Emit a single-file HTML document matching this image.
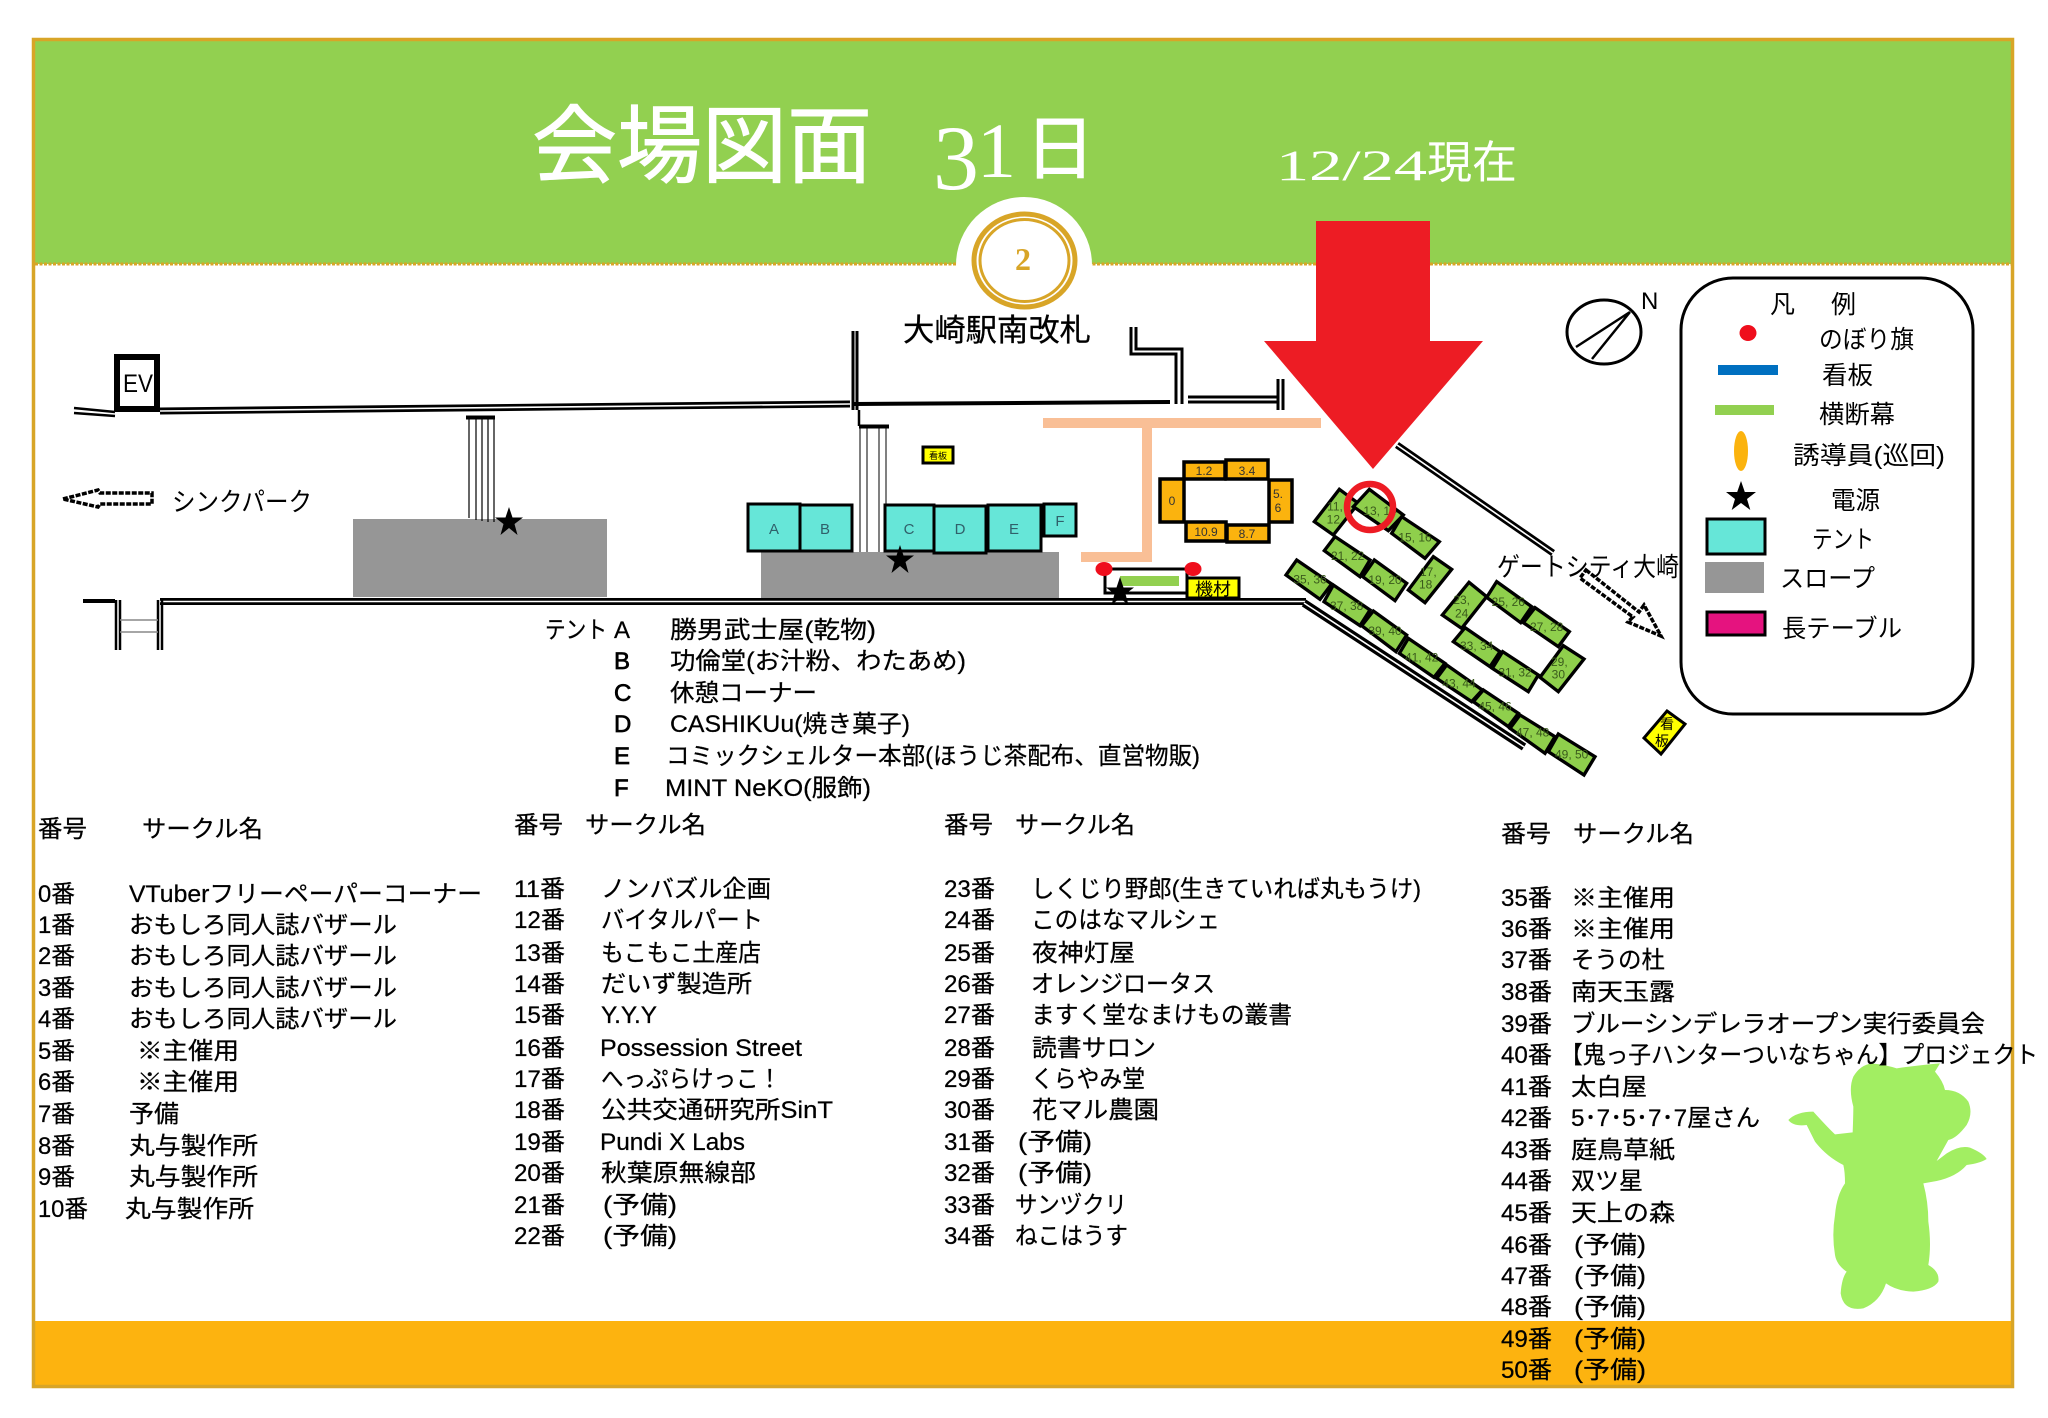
<!DOCTYPE html>
<html lang="ja">
<head>
<meta charset="utf-8">
<title>会場図面</title>
<style>
html,body{margin:0;padding:0;background:#fff;width:2048px;height:1418px;overflow:hidden}
svg{display:block}
text{font-family:"Liberation Sans","Noto Sans CJK JP",sans-serif;fill:#000}
.l text{font-size:24px;stroke:#000;stroke-width:.25}
.wb{fill:none;stroke:#000;stroke-width:7}
.ww{fill:none;stroke:#fff;stroke-width:1.6}
.t{fill:#66e6d8;stroke:#000;stroke-width:3}
.o{fill:#fbb30e;stroke:#000;stroke-width:3.5}
.tl{font-size:15px;fill:#30606a;text-anchor:middle}
.ol{font-size:12px;fill:#333;text-anchor:middle}
.g polygon{fill:#8fcf4c;stroke:#000;stroke-width:10}
.g text{font-size:36px;fill:#3a5a1c;text-anchor:middle}
</style>
</head>
<body>
<svg width="2048" height="1418" viewBox="0 0 2048 1418" xmlns="http://www.w3.org/2000/svg">
<rect width="2048" height="1418" fill="#fff"/>
<!-- header / footer -->
<rect x="33" y="39" width="1980" height="225" fill="#92d050"/>
<line x1="35" y1="264" x2="2012" y2="264" stroke="#d8a527" stroke-width="3" stroke-dasharray="3 1.500"/>
<rect x="33" y="1321" width="1980" height="66" fill="#fdb30f"/>
<rect x="33.500" y="39.500" width="1979" height="1347" fill="none" stroke="#d8a527" stroke-width="3.500"/>
<!-- title -->
<text x="532" y="176" font-size="85" textLength="340" lengthAdjust="spacingAndGlyphs" style="fill:#fff;stroke:#fff;stroke-width:1">会場図面</text>
<text x="933" y="189" font-size="92" style="fill:#fff;font-family:'Liberation Serif',serif">3</text>
<text x="977" y="177" font-size="78" style="fill:#fff;font-family:'Liberation Serif',serif">1</text>
<text x="1025" y="173" font-size="70" style="fill:#fff;stroke:#fff;stroke-width:1">日</text>
<text x="1276" y="180" font-size="43" textLength="151" lengthAdjust="spacingAndGlyphs" style="fill:#fff;font-family:'Liberation Serif',serif">12/24</text>
<text x="1427" y="178" font-size="45" textLength="90" lengthAdjust="spacingAndGlyphs" style="fill:#fff">現在</text>
<!-- station badge -->
<circle cx="1024" cy="265" r="68" fill="#fff"/>
<ellipse cx="1024.500" cy="260.500" rx="50.500" ry="46.500" fill="none" stroke="#d8a527" stroke-width="5"/>
<ellipse cx="1024.500" cy="260.500" rx="44.500" ry="41" fill="none" stroke="#d8a527" stroke-width="3"/>
<text x="1023" y="270" font-size="32" text-anchor="middle" style="fill:#d8a527;font-family:'Liberation Serif',serif;font-weight:bold">2</text>
<text x="903" y="341" font-size="31" textLength="188" lengthAdjust="spacingAndGlyphs" style="stroke:#000;stroke-width:.3">大崎駅南改札</text>

<!-- upper walls -->
<path class="wb" d="M160 411 L850 404"/><path class="ww" d="M160 411 L850 404"/>
<path d="M74 408 L115 412 M74 413 L115 416" stroke="#000" stroke-width="2.500" fill="none"/>
<path d="M854 404 L1170 402" stroke="#000" stroke-width="4" fill="none"/>
<path d="M853 331 V410 M857 331 V410" stroke="#000" stroke-width="3" fill="none"/>
<path d="M859 410 V426" stroke="#000" stroke-width="2.500" fill="none"/>
<path d="M1136 327 V349 H1182 V404 M1131 327 V354 H1176 V404" stroke="#000" stroke-width="3" fill="none"/>
<path d="M1188 397 H1279 M1188 402 H1279" stroke="#000" stroke-width="3" fill="none"/>
<path d="M1278 379 V410 M1283 379 V410" stroke="#000" stroke-width="3" fill="none"/>
<!-- EV -->
<rect x="117" y="357" width="40" height="52" fill="#fff" stroke="#000" stroke-width="6"/>
<text x="123" y="392" font-size="25" textLength="30" lengthAdjust="spacingAndGlyphs">EV</text>
<!-- slopes -->
<rect x="353" y="519" width="254" height="78" fill="#969696"/>
<rect x="761" y="552" width="298" height="47" fill="#969696"/>
<!-- stairs -->
<rect x="466" y="415.500" width="29" height="4" fill="#000"/>
<path d="M469 419 V518 M476 419 V520 M482 419 V521 M488 419 V522 M494 419 V522" stroke="#000" stroke-width="1.200" fill="none"/>
<rect x="859" y="424.500" width="30" height="4" fill="#000"/>
<path d="M860 428 V552 M867 428 V552 M879 428 V552 M886 428 V552" stroke="#000" stroke-width="1" fill="none"/>
<!-- lower walls -->
<path class="wb" d="M160 601.500 H1306"/><path class="ww" d="M160 601.500 H1306"/>
<path class="wb" d="M1304 603 L1524 747" style="stroke-width:8"/><path class="ww" d="M1304 603 L1524 747"/>
<path d="M83 601 H115" stroke="#000" stroke-width="4" fill="none"/>
<path d="M116 600 V650 M120 600 V650 M158 600 V650 M162 600 V650" stroke="#000" stroke-width="2.500" fill="none"/>
<path d="M120 620 H158 M120 632 H158" stroke="#888" stroke-width="1.500" fill="none"/>
<!-- upper right wall -->
<path class="wb" d="M1397 445 L1553 553"/><path class="ww" d="M1397 445 L1553 553"/>

<!-- tents -->
<rect class="t" x="748" y="504" width="52" height="47"/><rect class="t" x="800" y="505" width="52" height="46"/>
<rect class="t" x="885" y="505" width="49" height="46"/><rect class="t" x="934" y="506" width="52" height="47"/>
<rect class="t" x="988" y="505" width="53" height="46"/><rect class="t" x="1044" y="504" width="32" height="32"/>
<text class="tl" x="774" y="534">A</text><text class="tl" x="825" y="534">B</text><text class="tl" x="909" y="534">C</text><text class="tl" x="960" y="534">D</text><text class="tl" x="1014" y="534">E</text><text class="tl" x="1060" y="526">F</text>
<!-- sign -->
<rect x="923" y="447" width="30" height="16" fill="#ffff00" stroke="#000" stroke-width="3"/>
<text x="938" y="459" font-size="9" text-anchor="middle">看板</text>
<!-- peach -->
<path d="M1043 418 H1321 V428 H1152 V562 H1081 V552 H1142 V428 H1043 Z" fill="#f9bf96"/>
<!-- orange tables -->
<rect class="o" x="1160" y="479" width="24" height="43"/><rect class="o" x="1184" y="462" width="41" height="17"/><rect class="o" x="1226" y="460" width="42" height="19"/><rect class="o" x="1269" y="480" width="23" height="42"/><rect class="o" x="1186" y="522" width="40" height="19"/><rect class="o" x="1227" y="525" width="42" height="17"/>
<text class="ol" x="1172" y="505">0</text><text class="ol" x="1204" y="475">1.2</text><text class="ol" x="1247" y="475">3.4</text><text class="ol" x="1278" y="498">5.</text><text class="ol" x="1278" y="512">6</text><text class="ol" x="1206" y="536">10.9</text><text class="ol" x="1247" y="538">8.7</text>
<!-- banner box -->
<path d="M1105 569 H1187 V597 M1105 569 V593 H1187" fill="none" stroke="#000" stroke-width="3"/>
<rect x="1120" y="576" width="59" height="10" fill="#92d050"/>
<rect x="1187" y="578" width="52" height="20" fill="#ffff00" stroke="#000" stroke-width="3"/>
<text x="1213" y="595" font-size="17" text-anchor="middle" textLength="36" lengthAdjust="spacingAndGlyphs">機材</text>
<ellipse cx="1104" cy="569" rx="8.500" ry="7" fill="#ef0e1c"/><ellipse cx="1193" cy="569" rx="8.500" ry="7" fill="#ef0e1c"/>
<!-- stars -->
<polygon points="509,507 512.500,517.500 523,517.500 514.500,524 517.500,535 509,528 500.500,535 503.500,524 495,517.500 505.500,517.500" fill="#000"/>
<polygon points="900,545 903.500,555.500 914,555.500 905.500,562 908.500,573 900,566 891.500,573 894.500,562 886,555.500 896.500,555.500" fill="#000"/>
<polygon points="1120,577 1123.500,587.500 1134,587.500 1125.500,594 1128.500,605 1120,598 1111.500,605 1114.500,594 1106,587.500 1116.500,587.500" fill="#000"/>

<!-- green tables -->
<g class="g" transform="translate(1280,480) scale(.33333)">
<polygon points="178,28 235,70 160,165 103,125"/>
<polygon points="268,28 370,105 325,152 220,80"/>
<polygon points="365,110 478,185 435,235 335,160"/>
<polygon points="460,230 515,268 435,368 385,330"/>
<polygon points="165,170 270,240 240,290 133,212"/>
<polygon points="283,240 380,310 345,362 248,290"/>
<polygon points="50,240 155,312 120,358 18,285"/>
<polygon points="160,315 270,390 240,437 132,365"/>
<polygon points="280,393 380,465 348,515 245,437"/>
<polygon points="385,475 495,550 462,592 358,520"/>
<polygon points="500,555 607,630 575,665 470,595"/>
<polygon points="610,630 715,700 685,740 580,665"/>
<polygon points="720,705 825,770 795,820 690,745"/>
<polygon points="835,762 945,830 912,885 805,815"/>
<polygon points="567,307 620,350 545,445 487,405"/>
<polygon points="650,305 755,380 722,428 620,352"/>
<polygon points="765,383 868,455 835,500 730,428"/>
<polygon points="850,497 912,537 835,635 780,592"/>
<polygon points="555,443 660,515 630,560 520,485"/>
<polygon points="668,515 775,585 745,635 637,565"/>
<text x="165" y="92">11,</text><text x="160" y="130">12</text>
<text x="300" y="105">13, 14</text>
<text x="405" y="185">15, 16</text>
<text x="445" y="288">17,</text><text x="437" y="326">18</text>
<text x="203" y="240">21, 22</text>
<text x="315" y="312">19, 20</text>
<text x="90" y="310">35, 36</text>
<text x="200" y="390">37, 38</text>
<text x="315" y="465">39, 40</text>
<text x="425" y="545">41, 42</text>
<text x="537" y="622">43, 44</text>
<text x="645" y="692">45, 46</text>
<text x="758" y="770">47, 48</text>
<text x="875" y="835">49, 50</text>
<text x="545" y="372">23,</text><text x="545" y="412">24</text>
<text x="685" y="378">25, 26</text>
<text x="800" y="453">27, 28</text>
<text x="838" y="558">29,</text><text x="835" y="595">30</text>
<text x="590" y="510">33, 34</text>
<text x="705" y="590">31, 32</text>
</g>
<!-- yellow sign -->
<polygon points="1667,711 1685,724 1661,754 1644,738" fill="#ffff00" stroke="#000" stroke-width="3"/>
<text x="1667" y="729" font-size="14" text-anchor="middle">看</text>
<text x="1662" y="746" font-size="14" text-anchor="middle">板</text>

<!-- red arrow + circle -->
<polygon points="1316,221 1430,221 1430,341 1483,341 1373,469 1264,341 1316,341" fill="#ed1c24"/>
<circle cx="1370" cy="507" r="23" fill="none" stroke="#ed1c24" stroke-width="6.500"/>

<!-- dashed arrows -->
<polygon points="63,499 98,490 100,493 152,493 152,504 100,504 98,507" fill="#fff" stroke="#000" stroke-width="3.500" stroke-dasharray="5 1.500"/>
<text x="172" y="511" font-size="26" textLength="140" lengthAdjust="spacingAndGlyphs">シンクパーク</text>
<polygon points="1586,570 1639,612 1644,605 1661,636 1628,622 1633,617 1580,578" fill="#fff" stroke="#000" stroke-width="3.500" stroke-dasharray="5 1.500"/>
<text x="1497" y="576" font-size="26" textLength="182" lengthAdjust="spacingAndGlyphs">ゲートシティ大崎</text>

<!-- compass -->
<ellipse cx="1604" cy="332" rx="37" ry="32" fill="#fff" stroke="#000" stroke-width="3"/>
<path d="M1630 312 L1576 347 M1630 312 L1592 359" stroke="#000" stroke-width="2.500" fill="none"/>
<text x="1641" y="309" font-size="24">N</text>

<!-- legend -->
<rect x="1681" y="278" width="292" height="436" rx="52" ry="52" fill="#fff" stroke="#000" stroke-width="3"/>
<text x="1770" y="313" font-size="25">凡</text><text x="1831" y="313" font-size="25">例</text>
<ellipse cx="1748" cy="333" rx="8.500" ry="8" fill="#ef0e1c"/>
<text x="1819" y="348" font-size="25" textLength="95" lengthAdjust="spacingAndGlyphs">のぼり旗</text>
<rect x="1718" y="365" width="60" height="10" fill="#0070c0"/>
<text x="1822" y="384" font-size="25" textLength="51" lengthAdjust="spacingAndGlyphs">看板</text>
<rect x="1715" y="405" width="59" height="10" fill="#92d050"/>
<text x="1819" y="423" font-size="25" textLength="76" lengthAdjust="spacingAndGlyphs">横断幕</text>
<ellipse cx="1741" cy="451" rx="7" ry="20" fill="#fbb30e"/>
<text x="1793" y="464" font-size="25" textLength="152" lengthAdjust="spacingAndGlyphs">誘導員(巡回)</text>
<polygon points="1741,481 1744.800,492 1756,492 1747,499 1750.300,510 1741,503 1731.700,510 1735,499 1726,492 1737.200,492" fill="#000"/>
<text x="1831" y="509" font-size="25" textLength="49" lengthAdjust="spacingAndGlyphs">電源</text>
<rect class="t" x="1707" y="519" width="58" height="35"/>
<text x="1812" y="548" font-size="25" textLength="62" lengthAdjust="spacingAndGlyphs">テント</text>
<rect x="1705" y="562" width="59" height="31" fill="#969696"/>
<text x="1780" y="587" font-size="25" textLength="95" lengthAdjust="spacingAndGlyphs">スロープ</text>
<rect x="1707" y="612" width="58" height="23" fill="#e5137f" stroke="#000" stroke-width="3"/>
<text x="1782" y="637" font-size="25" textLength="120" lengthAdjust="spacingAndGlyphs">長テーブル</text>

<!-- mascot -->
<g transform="translate(1780,1055) scale(.33333)">
<path fill="#a2ee62" d="M275 25 Q320 30 350 40 Q420 30 480 25 L465 50 Q490 80 495 105 Q540 105 565 140 Q580 175 560 210 Q530 250 505 255 L470 318 L500 295 Q540 270 570 278 Q610 295 620 312 Q600 325 560 330 Q530 365 470 378 L430 385 Q445 440 445 500 Q455 570 445 630 Q480 650 475 680 Q460 705 400 710 Q350 708 318 685 Q300 740 250 760 Q190 770 182 715 Q185 670 200 650 Q170 630 165 600 Q155 540 165 480 Q170 420 195 385 Q195 350 190 330 Q140 305 105 260 L80 210 Q40 215 25 195 Q50 170 100 170 Q150 225 165 238 L218 232 Q220 180 220 155 Q205 100 220 65 Q240 30 275 25 Z"/>
</g>

<!-- tent list -->
<g class="l">
<text x="545" y="638" textLength="62" lengthAdjust="spacingAndGlyphs">テント</text>
<text x="614" y="638">A</text><text x="670" y="638" textLength="206" lengthAdjust="spacingAndGlyphs">勝男武士屋(乾物)</text>
<text x="614" y="669" style="stroke-width:.7">B</text><text x="670" y="669" textLength="296" lengthAdjust="spacingAndGlyphs">功倫堂(お汁粉、わたあめ)</text>
<text x="614" y="701" style="stroke-width:.7">C</text><text x="670" y="701" textLength="147" lengthAdjust="spacingAndGlyphs">休憩コーナー</text>
<text x="614" y="732" style="stroke-width:.7">D</text><text x="670" y="732" textLength="240" lengthAdjust="spacingAndGlyphs">CASHIKUu(焼き菓子)</text>
<text x="614" y="764" style="stroke-width:.7">E</text><text x="666" y="764" textLength="534" lengthAdjust="spacingAndGlyphs">コミックシェルター本部(ほうじ茶配布、直営物販)</text>
<text x="614" y="796" style="stroke-width:.7">F</text><text x="665" y="796" textLength="206" lengthAdjust="spacingAndGlyphs">MINT NeKO(服飾)</text>
</g>

<!-- column 1 -->
<g class="l">
<text x="38" y="837" textLength="49" lengthAdjust="spacingAndGlyphs">番号</text><text x="142" y="837" textLength="121" lengthAdjust="spacingAndGlyphs">サークル名</text>
<text x="38" y="902" textLength="37" lengthAdjust="spacingAndGlyphs">0番</text><text x="129" y="902" textLength="353" lengthAdjust="spacingAndGlyphs">VTuberフリーペーパーコーナー</text>
<text x="38" y="933" textLength="37" lengthAdjust="spacingAndGlyphs">1番</text><text x="129" y="933" textLength="268" lengthAdjust="spacingAndGlyphs">おもしろ同人誌バザール</text>
<text x="38" y="964" textLength="37" lengthAdjust="spacingAndGlyphs">2番</text><text x="129" y="964" textLength="268" lengthAdjust="spacingAndGlyphs">おもしろ同人誌バザール</text>
<text x="38" y="996" textLength="37" lengthAdjust="spacingAndGlyphs">3番</text><text x="129" y="996" textLength="268" lengthAdjust="spacingAndGlyphs">おもしろ同人誌バザール</text>
<text x="38" y="1027" textLength="37" lengthAdjust="spacingAndGlyphs">4番</text><text x="129" y="1027" textLength="268" lengthAdjust="spacingAndGlyphs">おもしろ同人誌バザール</text>
<text x="38" y="1059" textLength="37" lengthAdjust="spacingAndGlyphs">5番</text><text x="137" y="1059" textLength="102" lengthAdjust="spacingAndGlyphs">※主催用</text>
<text x="38" y="1090" textLength="37" lengthAdjust="spacingAndGlyphs">6番</text><text x="137" y="1090" textLength="102" lengthAdjust="spacingAndGlyphs">※主催用</text>
<text x="38" y="1122" textLength="37" lengthAdjust="spacingAndGlyphs">7番</text><text x="129" y="1122" textLength="50" lengthAdjust="spacingAndGlyphs">予備</text>
<text x="38" y="1154" textLength="37" lengthAdjust="spacingAndGlyphs">8番</text><text x="129" y="1154" textLength="129" lengthAdjust="spacingAndGlyphs">丸与製作所</text>
<text x="38" y="1185" textLength="37" lengthAdjust="spacingAndGlyphs">9番</text><text x="129" y="1185" textLength="129" lengthAdjust="spacingAndGlyphs">丸与製作所</text>
<text x="38" y="1217" textLength="50" lengthAdjust="spacingAndGlyphs">10番</text><text x="125" y="1217" textLength="129" lengthAdjust="spacingAndGlyphs">丸与製作所</text>
</g>

<!-- column 2 -->
<g class="l">
<text x="514" y="833" textLength="49" lengthAdjust="spacingAndGlyphs">番号</text><text x="585" y="833" textLength="121" lengthAdjust="spacingAndGlyphs">サークル名</text>
<text x="514" y="897" textLength="51" lengthAdjust="spacingAndGlyphs">11番</text><text x="601" y="897" textLength="170" lengthAdjust="spacingAndGlyphs">ノンバズル企画</text>
<text x="514" y="928" textLength="51" lengthAdjust="spacingAndGlyphs">12番</text><text x="601" y="928" textLength="162" lengthAdjust="spacingAndGlyphs">バイタルパート</text>
<text x="514" y="961" textLength="51" lengthAdjust="spacingAndGlyphs">13番</text><text x="601" y="961" textLength="160" lengthAdjust="spacingAndGlyphs">もこもこ土産店</text>
<text x="514" y="992" textLength="51" lengthAdjust="spacingAndGlyphs">14番</text><text x="601" y="992" textLength="151" lengthAdjust="spacingAndGlyphs">だいず製造所</text>
<text x="514" y="1023" textLength="51" lengthAdjust="spacingAndGlyphs">15番</text><text x="601" y="1023" textLength="56" lengthAdjust="spacingAndGlyphs">Y.Y.Y</text>
<text x="514" y="1056" textLength="51" lengthAdjust="spacingAndGlyphs">16番</text><text x="600" y="1056" textLength="202" lengthAdjust="spacingAndGlyphs">Possession Street</text>
<text x="514" y="1087" textLength="51" lengthAdjust="spacingAndGlyphs">17番</text><text x="601" y="1087" textLength="180" lengthAdjust="spacingAndGlyphs">へっぷらけっこ！</text>
<text x="514" y="1118" textLength="51" lengthAdjust="spacingAndGlyphs">18番</text><text x="601" y="1118" textLength="232" lengthAdjust="spacingAndGlyphs">公共交通研究所SinT</text>
<text x="514" y="1150" textLength="51" lengthAdjust="spacingAndGlyphs">19番</text><text x="600" y="1150" textLength="145" lengthAdjust="spacingAndGlyphs">Pundi X Labs</text>
<text x="514" y="1181" textLength="51" lengthAdjust="spacingAndGlyphs">20番</text><text x="601" y="1181" textLength="155" lengthAdjust="spacingAndGlyphs">秋葉原無線部</text>
<text x="514" y="1213" textLength="51" lengthAdjust="spacingAndGlyphs">21番</text><text x="603" y="1213" textLength="74" lengthAdjust="spacingAndGlyphs">(予備)</text>
<text x="514" y="1244" textLength="51" lengthAdjust="spacingAndGlyphs">22番</text><text x="603" y="1244" textLength="74" lengthAdjust="spacingAndGlyphs">(予備)</text>
</g>

<!-- column 3 -->
<g class="l">
<text x="944" y="833" textLength="49" lengthAdjust="spacingAndGlyphs">番号</text><text x="1015" y="833" textLength="120" lengthAdjust="spacingAndGlyphs">サークル名</text>
<text x="944" y="897" textLength="51" lengthAdjust="spacingAndGlyphs">23番</text><text x="1031" y="897" textLength="390" lengthAdjust="spacingAndGlyphs">しくじり野郎(生きていれば丸もうけ)</text>
<text x="944" y="928" textLength="51" lengthAdjust="spacingAndGlyphs">24番</text><text x="1031" y="928" textLength="189" lengthAdjust="spacingAndGlyphs">このはなマルシェ</text>
<text x="944" y="961" textLength="51" lengthAdjust="spacingAndGlyphs">25番</text><text x="1032" y="961" textLength="103" lengthAdjust="spacingAndGlyphs">夜神灯屋</text>
<text x="944" y="992" textLength="51" lengthAdjust="spacingAndGlyphs">26番</text><text x="1031" y="992" textLength="184" lengthAdjust="spacingAndGlyphs">オレンジロータス</text>
<text x="944" y="1023" textLength="51" lengthAdjust="spacingAndGlyphs">27番</text><text x="1031" y="1023" textLength="261" lengthAdjust="spacingAndGlyphs">ますく堂なまけもの叢書</text>
<text x="944" y="1056" textLength="51" lengthAdjust="spacingAndGlyphs">28番</text><text x="1032" y="1056" textLength="124" lengthAdjust="spacingAndGlyphs">読書サロン</text>
<text x="944" y="1087" textLength="51" lengthAdjust="spacingAndGlyphs">29番</text><text x="1031" y="1087" textLength="114" lengthAdjust="spacingAndGlyphs">くらやみ堂</text>
<text x="944" y="1118" textLength="51" lengthAdjust="spacingAndGlyphs">30番</text><text x="1032" y="1118" textLength="127" lengthAdjust="spacingAndGlyphs">花マル農園</text>
<text x="944" y="1150" textLength="51" lengthAdjust="spacingAndGlyphs">31番</text><text x="1018" y="1150" textLength="74" lengthAdjust="spacingAndGlyphs">(予備)</text>
<text x="944" y="1181" textLength="51" lengthAdjust="spacingAndGlyphs">32番</text><text x="1018" y="1181" textLength="74" lengthAdjust="spacingAndGlyphs">(予備)</text>
<text x="944" y="1213" textLength="51" lengthAdjust="spacingAndGlyphs">33番</text><text x="1015" y="1213" textLength="112" lengthAdjust="spacingAndGlyphs">サンヅクリ</text>
<text x="944" y="1244" textLength="51" lengthAdjust="spacingAndGlyphs">34番</text><text x="1015" y="1244" textLength="113" lengthAdjust="spacingAndGlyphs">ねこはうす</text>
</g>

<!-- column 4 -->
<g class="l">
<text x="1501" y="842" textLength="50" lengthAdjust="spacingAndGlyphs">番号</text><text x="1573" y="842" textLength="121" lengthAdjust="spacingAndGlyphs">サークル名</text>
<text x="1501" y="906" textLength="51" lengthAdjust="spacingAndGlyphs">35番</text><text x="1571" y="906" textLength="104" lengthAdjust="spacingAndGlyphs">※主催用</text>
<text x="1501" y="937" textLength="51" lengthAdjust="spacingAndGlyphs">36番</text><text x="1571" y="937" textLength="104" lengthAdjust="spacingAndGlyphs">※主催用</text>
<text x="1501" y="968" textLength="51" lengthAdjust="spacingAndGlyphs">37番</text><text x="1571" y="968" textLength="94" lengthAdjust="spacingAndGlyphs">そうの杜</text>
<text x="1501" y="1000" textLength="51" lengthAdjust="spacingAndGlyphs">38番</text><text x="1571" y="1000" textLength="104" lengthAdjust="spacingAndGlyphs">南天玉露</text>
<text x="1501" y="1032" textLength="51" lengthAdjust="spacingAndGlyphs">39番</text><text x="1571" y="1032" textLength="414" lengthAdjust="spacingAndGlyphs">ブルーシンデレラオープン実行委員会</text>
<text x="1501" y="1063" textLength="51" lengthAdjust="spacingAndGlyphs">40番</text><text x="1560" y="1063" textLength="478" lengthAdjust="spacingAndGlyphs">【鬼っ子ハンターついなちゃん】プロジェクト</text>
<text x="1501" y="1095" textLength="51" lengthAdjust="spacingAndGlyphs">41番</text><text x="1571" y="1095" textLength="76" lengthAdjust="spacingAndGlyphs">太白屋</text>
<text x="1501" y="1126" textLength="51" lengthAdjust="spacingAndGlyphs">42番</text><text x="1571" y="1126" textLength="189" lengthAdjust="spacingAndGlyphs">5･7･5･7･7屋さん</text>
<text x="1501" y="1158" textLength="51" lengthAdjust="spacingAndGlyphs">43番</text><text x="1571" y="1158" textLength="104" lengthAdjust="spacingAndGlyphs">庭鳥草紙</text>
<text x="1501" y="1189" textLength="51" lengthAdjust="spacingAndGlyphs">44番</text><text x="1571" y="1189" textLength="72" lengthAdjust="spacingAndGlyphs">双ツ星</text>
<text x="1501" y="1221" textLength="51" lengthAdjust="spacingAndGlyphs">45番</text><text x="1571" y="1221" textLength="104" lengthAdjust="spacingAndGlyphs">天上の森</text>
<text x="1501" y="1253" textLength="51" lengthAdjust="spacingAndGlyphs">46番</text><text x="1574" y="1253" textLength="72" lengthAdjust="spacingAndGlyphs">(予備)</text>
<text x="1501" y="1284" textLength="51" lengthAdjust="spacingAndGlyphs">47番</text><text x="1574" y="1284" textLength="72" lengthAdjust="spacingAndGlyphs">(予備)</text>
<text x="1501" y="1315" textLength="51" lengthAdjust="spacingAndGlyphs">48番</text><text x="1574" y="1315" textLength="72" lengthAdjust="spacingAndGlyphs">(予備)</text>
<text x="1501" y="1347" textLength="51" lengthAdjust="spacingAndGlyphs">49番</text><text x="1574" y="1347" textLength="72" lengthAdjust="spacingAndGlyphs">(予備)</text>
<text x="1501" y="1378" textLength="51" lengthAdjust="spacingAndGlyphs">50番</text><text x="1574" y="1378" textLength="72" lengthAdjust="spacingAndGlyphs">(予備)</text>
</g>
</svg>
</body>
</html>
